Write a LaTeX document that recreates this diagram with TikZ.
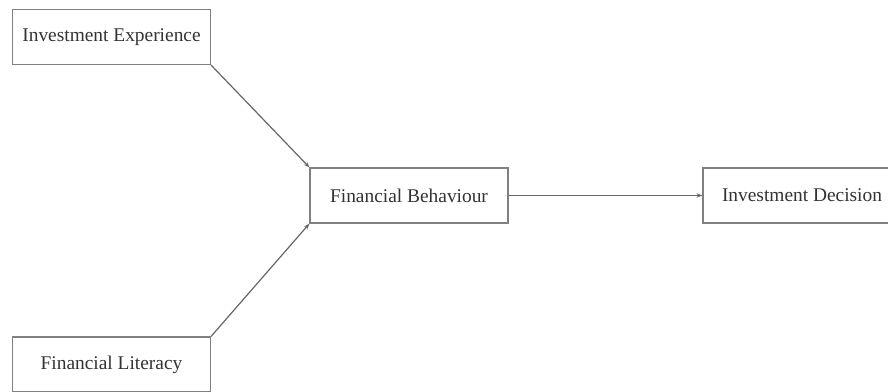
\documentclass[tikz,border=0pt]{standalone}
\usepackage{fontspec}
\setmainfont{Liberation Serif}
\usetikzlibrary{arrows.meta}
\tikzset{
  factor/.style={draw=black!50, line width=0.55pt, fill=white, minimum width=99pt, minimum height=27.5pt, inner sep=0pt, text=black!80, font=\fontsize{9.7}{11}\selectfont},
  link/.style={draw=black!60, line width=0.6pt, -{Stealth[length=3pt, width=2.2pt]}}
}
\begin{document}
\begin{tikzpicture}[x=0.5pt, y=-0.5pt]
  \useasboundingbox (0,0) rectangle (888,391);
  % predictors on the left
  \node[factor] (exper) at (111.5,37) {Investment Experience};
  \node[factor] (liter) at (111.5,364.5) {Financial Literacy};
  % mediator and outcome
  \node[factor] (behav) at (409,195.5) {Financial Behaviour};
  \node[factor] (decis) at (802,195.5) {Investment Decision};
  \draw[link] (exper.south east) -- (behav.north west);
  \draw[link] (liter.north east) -- (behav.south west);
  \draw[link] (behav) -- (decis);
\end{tikzpicture}
\end{document}
